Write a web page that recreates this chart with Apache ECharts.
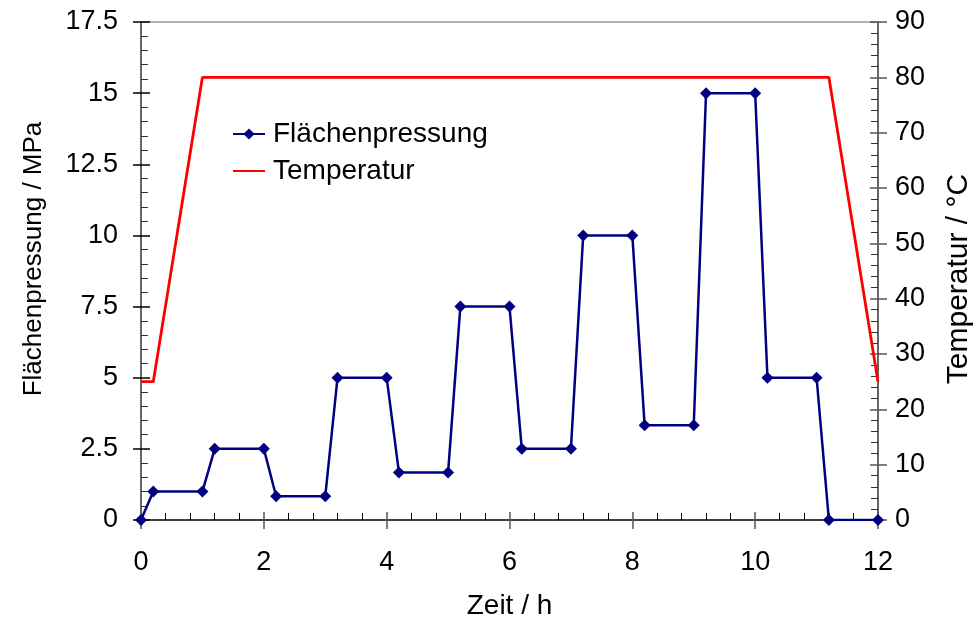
<!DOCTYPE html>
<html>
<head>
<meta charset="utf-8">
<script src="https://cdn.jsdelivr.net/npm/echarts@6/dist/echarts.min.js"></script>
<style>
  html, body { margin: 0; padding: 0; background: #fff; }
  #chart { width: 976px; height: 618px; }
</style>
</head>
<body>
<div id="chart"></div>
<script>
// Flächenpressung (MPa) over time (h)
const pressTime = [0, 0.2, 1, 1.2, 2, 2.2, 3, 3.2, 4, 4.2, 5, 5.2, 6, 6.2, 7, 7.2, 8, 8.2, 9, 9.2, 10, 10.2, 11, 11.2, 12]
const pressValues = [0, 1, 1, 2.5, 2.5, 0.833, 0.833, 5, 5, 1.667, 1.667, 7.5, 7.5, 2.5, 2.5, 10, 10, 3.333, 3.333, 15, 15, 5, 5, 0, 0]
// Temperatur (°C) over time (h)
const tempTime = [0, 0.2, 1, 11.2, 12]
const tempValues = [25, 25, 80, 80, 25]

const font = '"Liberation Sans", Arial, sans-serif'
const black = '#000'
const labelStyle = { color: black, fontSize: 27, fontFamily: font }

const chart = echarts.init(document.getElementById('chart'))

const gridBox = { left: 141, right: 98, top: 22, bottom: 98, outerBoundsMode: 'none', containLabel: false }
const noZero = { onZero: false }
const baseX = { type: 'value', min: 0, max: 12, interval: 2, splitLine: { show: false } }
const baseL = { type: 'value', min: 0, max: 17.5, interval: 2.5, position: 'left', splitLine: { show: false } }
const baseR = { type: 'value', min: 0, max: 90, interval: 10, position: 'right', splitLine: { show: false } }

// grid 1 only carries the inward ticks (major + minor) on top of grid 0
chart.setOption({
  animation: false,
  grid: [gridBox, gridBox],
  legend: {
    orient: 'vertical',
    left: 227,
    top: 115,
    itemWidth: 32,
    itemHeight: 14,
    itemGap: 9,
    textStyle: { ...labelStyle, fontSize: 28, padding: [0, 0, 0, 3] },
    data: [
      { name: 'Flächenpressung' },
      { name: 'Temperatur', itemStyle: { opacity: 0 } }
    ]
  },
  xAxis: [
    {
      ...baseX,
      gridIndex: 0,
      position: 'bottom',
      name: 'Zeit / h',
      nameLocation: 'middle',
      nameGap: 72,
      nameTextStyle: { ...labelStyle, fontSize: 28 },
      axisLine: { ...noZero, lineStyle: { color: black, width: 1.5 } },
      axisTick: { inside: false, length: 9, lineStyle: { color: '#555', width: 1.5 } },
      axisLabel: { ...labelStyle, margin: 29 }
    },
    {
      ...baseX,
      gridIndex: 0,
      position: 'top',
      axisLine: { ...noZero, lineStyle: { color: '#999', width: 1.5 } },
      axisTick: { show: false },
      axisLabel: { show: false }
    },
    {
      ...baseX,
      gridIndex: 1,
      position: 'bottom',
      axisLine: { ...noZero, show: false },
      axisTick: { inside: true, length: 8, lineStyle: { color: '#555', width: 1.5 } },
      minorTick: { show: true, splitNumber: 5, length: 7, lineStyle: { color: black, width: 1 } },
      axisLabel: { show: false }
    }
  ],
  yAxis: [
    {
      ...baseL,
      gridIndex: 0,
      name: 'Flächenpressung / MPa',
      nameLocation: 'middle',
      nameRotate: 90,
      nameGap: 94,
      nameTextStyle: { ...labelStyle, fontSize: 26, padding: [0, 0, 0, 24] },
      axisLine: { ...noZero, lineStyle: { color: '#333', width: 1.5 } },
      axisTick: { inside: false, length: 8, lineStyle: { color: black, width: 1.5 } },
      axisLabel: { ...labelStyle, margin: 23 }
    },
    {
      ...baseR,
      gridIndex: 0,
      name: 'Temperatur / °C',
      nameLocation: 'middle',
      nameRotate: 90,
      nameGap: 66,
      nameTextStyle: { ...labelStyle, fontSize: 30, padding: [0, 16, 0, 0] },
      axisLine: { ...noZero, lineStyle: { color: '#333', width: 1.5 } },
      axisTick: { inside: false, length: 9, lineStyle: { color: '#555', width: 1.5 } },
      axisLabel: { ...labelStyle, margin: 17 }
    },
    {
      ...baseL,
      gridIndex: 1,
      axisLine: { ...noZero, show: false },
      axisTick: { inside: true, length: 9, lineStyle: { color: black, width: 1.5 } },
      minorTick: { show: true, splitNumber: 5, length: 7, lineStyle: { color: '#333', width: 1 } },
      axisLabel: { show: false }
    },
    {
      ...baseR,
      gridIndex: 1,
      axisLine: { ...noZero, show: false },
      axisTick: { inside: true, length: 8, lineStyle: { color: '#555', width: 1.5 } },
      minorTick: { show: true, splitNumber: 5, length: 7, lineStyle: { color: '#333', width: 1 } },
      axisLabel: { show: false }
    }
  ],
  series: [
    {
      name: 'Temperatur',
      type: 'line',
      xAxisIndex: 0,
      yAxisIndex: 1,
      data: tempTime.map((t, i) => [t, tempValues[i]]),
      symbol: 'none',
      color: '#ff0000',
      lineStyle: { color: '#ff0000', width: 2.8 },
      z: 2
    },
    {
      name: 'Flächenpressung',
      type: 'line',
      xAxisIndex: 0,
      yAxisIndex: 0,
      data: pressTime.map((t, i) => [t, pressValues[i]]),
      symbol: 'diamond',
      symbolSize: 12,
      color: '#000080',
      itemStyle: { color: '#000080' },
      lineStyle: { color: '#000080', width: 2.5 },
      z: 3
    }
  ]
})
</script>
</body>
</html>
